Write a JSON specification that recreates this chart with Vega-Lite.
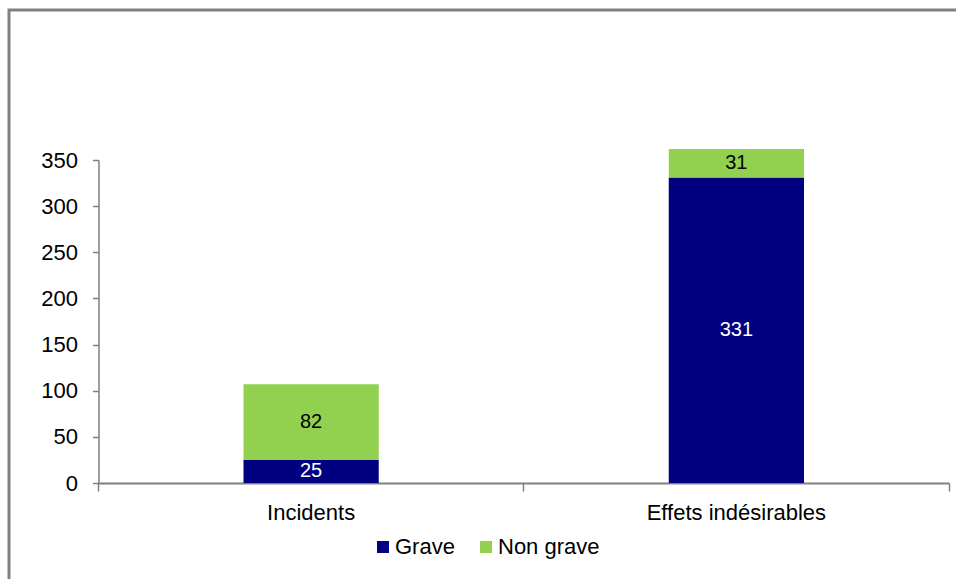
{
  "$schema": "https://vega.github.io/schema/vega-lite/v6.json",
  "width": 1000,
  "height": 620,
  "autosize": {"type": "none"},
  "padding": {"left": 9, "top": 10, "right": -53, "bottom": -51},
  "background": "white",
  "config": {
    "view": {"stroke": "#808080", "strokeWidth": 3},
    "font": "Liberation Sans"
  },
  "data": {
    "values": [
      {"categorie": "Incidents", "gravite": "Grave", "n": 25, "rang": 1},
      {"categorie": "Incidents", "gravite": "Non grave", "n": 82, "rang": 2},
      {"categorie": "Effets indésirables", "gravite": "Grave", "n": 331, "rang": 1},
      {"categorie": "Effets indésirables", "gravite": "Non grave", "n": 31, "rang": 2}
    ]
  },
  "transform": [
    {"stack": "n", "groupby": ["categorie"], "sort": [{"field": "rang", "order": "ascending"}], "as": ["bas", "haut"]},
    {"calculate": "(datum.bas + datum.haut) / 2", "as": "milieu"}
  ],
  "encoding": {
    "x": {
      "field": "categorie",
      "type": "nominal",
      "sort": ["Incidents", "Effets indésirables"],
      "scale": {"range": [89.5, 940], "paddingInner": 0, "paddingOuter": 0},
      "axis": {
        "title": null,
        "orient": "bottom",
        "offset": -147,
        "bandPosition": 1,
        "tickExtra": true,
        "tickSize": 8,
        "tickColor": "#808080",
        "tickWidth": 1.5,
        "domainColor": "#808080",
        "domainWidth": 2,
        "labelAngle": 0,
        "labelFontSize": 22,
        "labelColor": "#000000",
        "labelPadding": 11
      }
    }
  },
  "layer": [
    {
      "mark": {"type": "bar", "width": {"band": 0.318}},
      "encoding": {
        "y": {
          "field": "bas",
          "type": "quantitative",
          "scale": {"domain": [0, 350], "range": [473, 150], "nice": false},
          "axis": {
            "title": null,
            "offset": -89.5,
            "values": [0, 50, 100, 150, 200, 250, 300, 350],
            "grid": false,
            "tickSize": 6,
            "tickColor": "#808080",
            "tickWidth": 1.5,
            "domainColor": "#808080",
            "domainWidth": 1.5,
            "labelFontSize": 22,
            "labelColor": "#000000",
            "labelPadding": 15
          }
        },
        "y2": {"field": "haut"},
        "color": {
          "field": "gravite",
          "type": "nominal",
          "scale": {"domain": ["Grave", "Non grave"], "range": ["#000080", "#92D050"]},
          "legend": {
            "title": null,
            "orient": "none",
            "legendX": 363,
            "legendY": 526,
            "direction": "horizontal",
            "symbolType": "square",
            "symbolSize": 144,
            "symbolStrokeWidth": 0,
            "labelFontSize": 22,
            "labelColor": "#000000",
            "labelOffset": 1,
            "columnPadding": 20
          }
        }
      }
    },
    {
      "mark": {"type": "text", "fontSize": 20, "baseline": "middle", "align": "center"},
      "encoding": {
        "y": {"field": "milieu", "type": "quantitative"},
        "text": {"field": "n", "type": "quantitative"},
        "color": {
          "condition": {"test": "datum.gravite === 'Grave'", "value": "#ffffff"},
          "value": "#000000"
        }
      }
    }
  ]
}
